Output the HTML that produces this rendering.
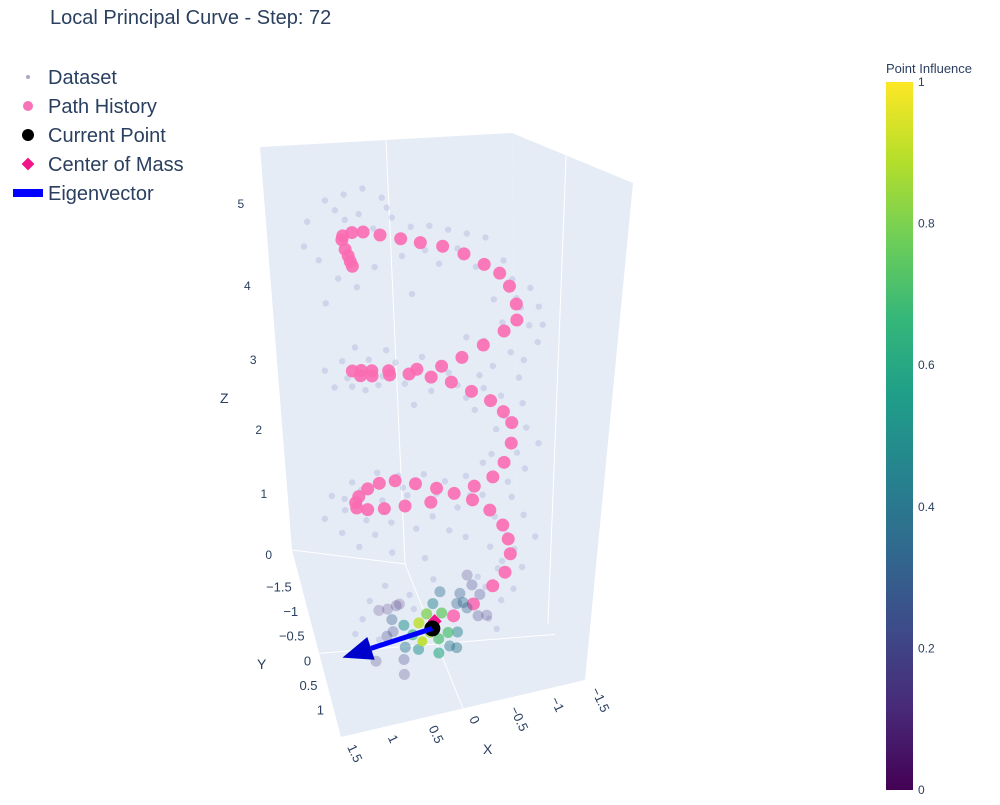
<!DOCTYPE html>
<html><head><meta charset="utf-8"><style>
body{margin:0;background:#fff;font-family:"Liberation Sans",Arial,sans-serif;}
svg text{font-family:"Liberation Sans",Arial,sans-serif;fill:#2a3f5f;}
</style></head><body>
<svg id="chart" width="1000" height="800" viewBox="0 0 1000 800" xmlns="http://www.w3.org/2000/svg">
<text x="50" y="24" font-size="20">Local Principal Curve - Step: 72</text>
<g id="legend">
 <g><circle cx="28" cy="77" r="2" fill="#a9a9c4"/><text x="48" y="84" font-size="20">Dataset</text></g>
 <g><circle cx="28" cy="106" r="5" fill="#f772b6"/><text x="48" y="113" font-size="20">Path History</text></g>
 <g><circle cx="28" cy="135" r="6" fill="#000"/><text x="48" y="142" font-size="20">Current Point</text></g>
 <g><rect x="23.5" y="159.5" width="9" height="9" fill="#f0168a" transform="rotate(45 28 164)"/><text x="48" y="171" font-size="20">Center of Mass</text></g>
 <g><rect x="13" y="189" width="30" height="8" fill="#0000ff"/><text x="48" y="200" font-size="20">Eigenvector</text></g>
</g>
<g id="scene"></g>
<g id="cbar">
 <defs><linearGradient id="vir" x1="0" y1="1" x2="0" y2="0">
  <stop offset="0" stop-color="#440154"/><stop offset="0.111" stop-color="#482878"/><stop offset="0.222" stop-color="#3e4989"/><stop offset="0.333" stop-color="#31688e"/><stop offset="0.444" stop-color="#26828e"/><stop offset="0.556" stop-color="#1f9e89"/><stop offset="0.667" stop-color="#35b779"/><stop offset="0.778" stop-color="#6ece58"/><stop offset="0.889" stop-color="#b5de2b"/><stop offset="1" stop-color="#fde725"/>
 </linearGradient></defs>
 <text x="886" y="73" font-size="13">Point Influence</text>
 <rect x="886" y="82" width="27" height="708" fill="url(#vir)"/>
</g>
</svg>
<script>
// ---------- data ----------
const pathX=[0.94,0.93,0.83,0.71,0.53,0.31,0.10,-0.14,-0.37,-0.59,-0.76,-0.87,-0.95,-0.96,-0.82,-0.59,-0.35,-0.12,-0.23,0.0,-0.46,0.91,0.88,0.86,0.84,-0.68,-0.83,-0.93,-0.93,-0.85,-0.72,-0.50,-0.48,-0.26,-0.05,0.02,0.20,0.33,0.44,0.58,0.63,0.77,0.78,0.88,0.92,0.91,0.89,0.79,0.80,0.67,0.67,0.48,0.47,0.25,0.16,-0.69,-0.85,-0.92,-0.95,-0.89,-0.74,-0.50,-0.25];
const pathZ=[4.90,4.94,4.97,4.97,4.93,4.88,4.83,4.78,4.69,4.57,4.47,4.33,4.14,3.97,3.85,3.70,3.57,3.48,3.29,3.36,3.17,4.80,4.73,4.67,4.62,3.05,2.91,2.77,2.52,2.29,2.12,2.02,1.84,1.94,2.02,1.84,2.09,1.81,2.14,1.79,2.12,2.06,1.79,1.97,1.89,1.82,3.48,3.48,3.42,3.47,3.41,3.46,3.41,3.41,3.46,1.69,1.48,1.29,1.09,0.84,0.66,0.42,0.27];
const dataX=[1.3,1.1,0.9,0.7,0.5,0.9,0.6,1.2,1.0,0.8,0.6,0.4,0.2,0.0,-0.2,-0.4,-0.6,0.3,-0.1,-0.5,-0.8,-0.9,-1.1,-1.2,-1.1,-1.0,-0.7,-0.8,-1.2,-0.9,-0.6,-0.4,-1.05,-0.7,1.35,1.15,0.2,
 1.2,1.0,0.9,0.7,0.6,0.4,0.3,0.1,0.0,-0.2,1.1,0.5,-0.4,-0.6,-0.8,-1.05,-1.1,-0.75,-1.0,-0.7,-1.1,-0.9,0.85,0.2,
 1.2,1.05,0.95,0.8,0.65,0.5,0.4,0.3,0.1,0.0,-0.15,-0.3,-0.4,-0.6,-0.75,-0.6,1.1,0.7,0.2,-0.2,-0.9,-1.1,-1.0,-0.7,-1.1,-0.8,-1.0,-0.65,-0.85,-0.55,0.5,0.1,1.3,
 0.9,0.8,1.0,0.7,-0.7,-0.8,0.3,0.6,0.0,
 1.0,0.75,0.45,0.05,-0.3,-0.95,-1.25,-1.0,-0.55,0.15,0.95,0.75,0.55,-0.1,-0.3,-0.85,-1.25,-0.5,1.05,0.85,0.6,0.35,-0.05,-0.45,-0.95,-1.25,-0.85,-0.4,0.9,0.25];
const dataZ=[5.1,5.3,5.35,5.4,5.3,5.1,5.0,4.7,4.5,4.4,4.6,5.1,5.0,5.0,4.95,4.9,4.85,4.7,4.6,4.55,4.6,4.4,4.3,4.1,3.9,4.1,4.2,3.95,3.7,3.6,3.75,3.8,3.5,3.45,4.85,4.25,4.3,
 3.5,3.6,3.3,3.6,3.3,3.55,3.3,3.6,3.2,3.4,3.3,3.7,3.1,3.2,3.1,3.0,2.7,2.7,2.4,2.4,2.2,2.05,3.75,3.05,
 2.0,1.8,2.15,1.65,2.25,1.6,2.2,1.95,2.2,1.65,2.1,1.75,2.15,1.9,1.6,2.3,1.5,1.45,1.5,1.45,1.35,1.6,1.15,1.2,0.9,0.9,0.6,0.65,0.45,0.8,1.2,1.1,1.7,
 0.3,0.55,0.1,0.0,0.2,0.05,0.6,0.75,0.8,
 5.2,5.15,5.2,4.75,4.75,4.2,3.9,3.3,3.35,3.45,3.4,3.25,3.4,3.5,3.25,2.85,2.5,2.95,1.95,2.05,1.9,2.05,1.95,1.9,1.85,1.3,1.0,1.35,1.3,0.4];
const nbX=[0.01,-0.10,0.09,0.19,0.38,0.27,0.15,-0.06,-0.18,-0.30,-0.20,-0.29,-0.06,0.20,0.37,-0.37,-0.29,-0.08,0.53,0.52,0.60,0.75,0.39,0.39,0.47,0.58,0.69,0.43,-0.42,-0.48,-0.58,-0.56,-0.67,-0.33,-0.42,0.05];
const nbZ=[0.46,0.32,0.32,0.20,0.18,0.04,-0.06,-0.04,0.04,0.04,-0.15,-0.18,-0.24,-0.17,-0.13,0.45,0.44,0.62,0.27,0.10,0.04,-0.30,-0.30,-0.51,0.46,0.42,0.41,0.48,0.83,0.69,0.55,0.25,0.25,0.58,0.37,0.06];
const nbInfluence=[0.45,0.75,0.8,0.9,0.5,0.65,0.9,0.7,0.7,0.45,0.4,0.4,0.6,0.5,0.4,0.35,0.3,0.35,0.3,0.2,0.2,0.15,0.2,0.15,0.15,0.12,0.1,0.1,0.15,0.2,0.2,0.2,0.15,0.3,0.3,0.85];
const currentPoint=[0.02,-0.2,0.11];
const centerOfMass=[-0.01,-0.2,0.21];
const eigenTip=[1.18,-0.2,-0.22];
const planeY=-0.2;
const xTicks=[1.5,1,0.5,0,-0.5,-1,-1.5];
const yTicks=[-1.5,-1,-0.5,0,0.5,1];
const zTicks=[0,1,2,3,4,5];
const cbTicks=[0,0.2,0.4,0.6,0.8,1];
// ---------- projection ----------
const xR=[1.5,-1.5], yR=[-2.1,1.7];
const zT=[0,1,2,3,4,5,5.6], wT=[0,0.151,0.31,0.484,0.667,0.871,1];
const Db=[292,550],Cb=[518,578],Bb=[585,680],Ab=[341,737];
const Dt=[260,147],Ct=[512,133],Bt=[633,183],At=[310,197];
function zf(z){ if(z<=0) return z*0.151;
 for(let i=1;i<zT.length;i++){ if(z<=zT[i]) return wT[i-1]+(z-zT[i-1])/(zT[i]-zT[i-1])*(wT[i]-wT[i-1]); }
 return 1;}
function bil(P,Q,R,S,u,v,k){return P[k]*(1-u)*(1-v)+Q[k]*u*(1-v)+R[k]*u*v+S[k]*(1-u)*v;}
function proj(x,y,z){const u=(x-xR[0])/(xR[1]-xR[0]), v=(y-yR[0])/(yR[1]-yR[0]), w=zf(z);
 const bx=bil(Db,Cb,Bb,Ab,u,v,0), by=bil(Db,Cb,Bb,Ab,u,v,1), tx=bil(Dt,Ct,Bt,At,u,v,0), ty=bil(Dt,Ct,Bt,At,u,v,1);
 return [bx*(1-w)+tx*w, by*(1-w)+ty*w];}
const NS='http://www.w3.org/2000/svg';
const scene=document.getElementById('scene');
function mk(tag,attrs,parent){const e=document.createElementNS(NS,tag);for(const k in attrs)e.setAttribute(k,attrs[k]);(parent||scene).appendChild(e);return e;}
function pts(a){return a.map(p=>p.join(',')).join(' ');}
let e;
e=mk('polygon',{points:pts([proj(1.5,-2.1,0),proj(-1.5,-2.1,0),proj(-1.5,-2.1,5.6),proj(1.5,-2.1,5.6)]),fill:'#e5ecf6'});


e=mk('polygon',{points:pts([proj(-1.5,-2.1,0),proj(-1.5,1.7,0),proj(-1.5,1.7,5.6),proj(-1.5,-2.1,5.6)]),fill:'#e5ecf6'});


e=mk('polygon',{points:pts([proj(1.5,-2.1,0),proj(-1.5,-2.1,0),proj(-1.5,1.7,0),proj(1.5,1.7,0)]),fill:'#e5ecf6'});


function gl(a,b,name){const p=proj(...a),q=proj(...b);const l=mk('line',{x1:p[0],y1:p[1],x2:q[0],y2:q[1],stroke:'#fff','stroke-width':1});
 
 }
gl([0,-2.1,0],[0,-2.1,5.6],'grid-x0-wall');
gl([-1.5,-0.4,0],[-1.5,-0.4,5.6],'grid-y-wall');
gl([0,-2.1,0],[0,1.7,0],'grid-x0-floor');
gl([1.5,0,0],[-1.5,0,0],'grid-y0-floor');
gl([1.5,-2.1,0],[0,-2.1,0],'grid-z0-wall');
for(let i=0;i<dataX.length;i++){const p=proj(dataX[i],planeY,dataZ[i]);
 const c=mk('circle',{cx:p[0],cy:p[1],r:3.2,fill:'#4a4a9a','fill-opacity':0.14});
 
 }
for(let i=0;i<pathX.length;i++){const p=proj(pathX[i],planeY,pathZ[i]);
 const c=mk('circle',{cx:p[0],cy:p[1],r:6.5,fill:'#fb6cb3','fill-opacity':0.9});
 
 }
const vir=['#440154','#482878','#3e4989','#31688e','#26828e','#1f9e89','#35b779','#6ece58','#b5de2b','#fde725'];
function vc(t){const f=Math.max(0,Math.min(1,t))*9,i=Math.min(8,Math.floor(f)),r=f-i;
 const a=vir[i],b=vir[i+1];const h=(s,k)=>parseInt(s.substr(1+2*k,2),16);
 return 'rgb('+[0,1,2].map(k=>Math.round(h(a,k)*(1-r)+h(b,k)*r)).join(',')+')';}
const cm=proj(...centerOfMass);
e=mk('rect',{x:cm[0]-5,y:cm[1]-5,width:10,height:10,fill:'#f0168a',transform:'rotate(45 '+cm[0]+' '+cm[1]+')'});


const order=nbInfluence.map((v,i)=>i).sort((a,b)=>nbInfluence[a]-nbInfluence[b]);
for(const i of order){const p=proj(nbX[i],planeY,nbZ[i]);
 if(i===order[order.length-1]) continue;
 const c=mk('circle',{cx:p[0],cy:p[1],r:5.5,fill:vc(nbInfluence[i]),'fill-opacity':0.15+0.75*nbInfluence[i]});
 
 }
const cp=proj(...currentPoint);
e=mk('circle',{cx:cp[0],cy:cp[1],r:8,fill:'#000'});


{const i=order[order.length-1];const p=proj(nbX[i],planeY,nbZ[i]);
 const c=mk('circle',{cx:p[0],cy:p[1],r:5,fill:vc(nbInfluence[i]),'fill-opacity':0.9});
 
 }
const tp=proj(...eigenTip);
{const dx=tp[0]-cp[0],dy=tp[1]-cp[1],L=Math.hypot(dx,dy),ux=dx/L,uy=dy/L,hl=30,hw=12;
 const bx=tp[0]-ux*hl,by=tp[1]-uy*hl;
 const g=mk('g',{});
 
 
 mk('line',{x1:cp[0],y1:cp[1],x2:bx,y2:by,stroke:'#0000ff','stroke-width':5},g);
 mk('polygon',{points:pts([tp,[bx-uy*hw,by+ux*hw],[bx+uy*hw,by-ux*hw]]),fill:'#0000cc'},g);}
for(const t of xTicks){const p=proj(t,1.7,0);const x=p[0]+6,y=p[1]+10;
 const tx=mk('text',{x:x,y:y,'font-size':13,transform:'rotate(65 '+x+' '+y+')'});tx.textContent=t<0?'\u2212'+Math.abs(t):String(t);
 
 }
for(const t of yTicks){const p=proj(1.5,t,0);
 const tx=mk('text',{x:p[0]-8,y:p[1]+12,'font-size':13,'text-anchor':'end'});tx.textContent=t<0?'\u2212'+Math.abs(t):String(t);
 
 }
for(const t of zTicks){const p=proj(1.5,-2.1,t);
 const tx=mk('text',{x:p[0]-20,y:p[1]+9,'font-size':12,'text-anchor':'end'});tx.textContent=String(t);
 
 }
e=mk('text',{x:483,y:754,'font-size':14});e.textContent='X';


e=mk('text',{x:257,y:669,'font-size':14});e.textContent='Y';


e=mk('text',{x:220,y:403,'font-size':14});e.textContent='Z';


const cb=document.getElementById('cbar');
for(const t of cbTicks){const y=790-t*708;
 const tx=mk('text',{x:918,y:y+4,'font-size':12},cb);tx.textContent=String(t);
 
 }
</script>
</body></html>
